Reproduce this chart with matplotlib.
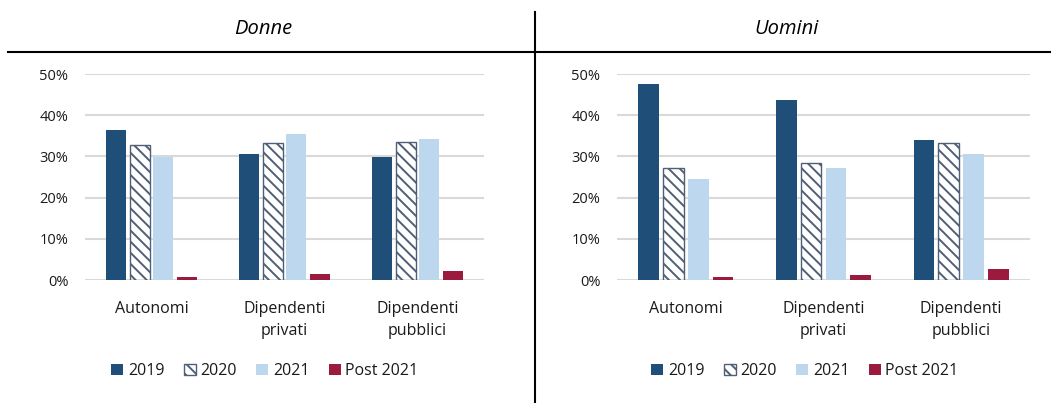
import numpy as np
import matplotlib
matplotlib.use('Agg')
import matplotlib.pyplot as plt
from matplotlib.lines import Line2D
from matplotlib.patches import Patch

plt.rcParams['font.family'] = ['Open Sans', 'DejaVu Sans']
plt.rcParams['hatch.linewidth'] = 1.4

# Dati
categorie = ['Autonomi', 'Dipendenti\nprivati', 'Dipendenti\npubblici']
serie = ['2019', '2020', '2021', 'Post 2021']

donne_2019 = [0.364, 0.307, 0.299]
donne_2020 = [0.328, 0.332, 0.336]
donne_2021 = [0.299, 0.354, 0.343]
donne_post = [0.008, 0.015, 0.023]

uomini_2019 = [0.476, 0.436, 0.339]
uomini_2020 = [0.273, 0.285, 0.332]
uomini_2021 = [0.246, 0.271, 0.306]
uomini_post = [0.008, 0.012, 0.026]

colori = ['#1F4E79', 'white', '#BDD7EE', '#9B1B3E']
col_hatch = '#4F5F75'

fig = plt.figure(figsize=(10.51, 4.03), dpi=100)


def disegna(ax, valori):
    x = np.arange(len(categorie))
    step = 0.18
    for i, v in enumerate(valori):
        pos = x + (i - 1.5) * step
        if serie[i] == '2020':
            ax.bar(pos, v, width=0.15, color='white', edgecolor=col_hatch,
                   hatch='\\\\\\', linewidth=1.0, zorder=3)
        else:
            ax.bar(pos, v, width=0.15, color=colori[i], zorder=3)
    ax.set_xlim(-0.5, len(categorie) - 0.5)
    ax.set_ylim(0, 0.5)
    ax.set_yticks(np.arange(0, 0.51, 0.1))
    ax.set_yticklabels([f'{int(round(t * 100))}%' for t in np.arange(0, 0.51, 0.1)])
    ax.yaxis.grid(True, color='#D9D9D9', linewidth=1.5, zorder=0)
    ax.set_axisbelow(True)
    ax.set_xticks(x)
    ax.set_xticklabels(categorie, linespacing=1.55)
    ax.tick_params(axis='x', length=0, pad=15, labelsize=11.5, labelcolor='#1a1a1a')
    ax.tick_params(axis='y', length=0, pad=12, labelsize=10.5, labelcolor='#1a1a1a')
    for s in ax.spines.values():
        s.set_visible(False)


ax1 = fig.add_axes([85 / 1051, 1 - 280 / 403, 399 / 1051, 206 / 403])
disegna(ax1, [donne_2019, donne_2020, donne_2021, donne_post])

ax2 = fig.add_axes([617 / 1051, 1 - 280 / 403, 413 / 1051, 206 / 403])
disegna(ax2, [uomini_2019, uomini_2020, uomini_2021, uomini_post])

# Legende
handles = [Patch(facecolor=colori[0]),
           Patch(facecolor='white', edgecolor=col_hatch, hatch='\\\\\\', linewidth=1.0),
           Patch(facecolor=colori[2]),
           Patch(facecolor=colori[3])]
for cx in [265 / 1051, 805 / 1051]:
    fig.legend(handles, serie, loc='center', bbox_to_anchor=(cx, 1 - 371 / 403),
               ncol=4, frameon=False, fontsize=11.5, handlelength=0.75,
               handleheight=0.75, handletextpad=0.3, columnspacing=1.2,
               labelcolor='#1a1a1a')

# Titoli
fig.text(263 / 1051, 1 - 29 / 403, 'Donne', ha='center', va='center',
         fontsize=14.5, style='italic')
fig.text(787 / 1051, 1 - 29 / 403, 'Uomini', ha='center', va='center',
         fontsize=14.5, style='italic')

# Linee della tabella
fig.add_artist(Line2D([8 / 1051, 1], [1 - 52 / 403, 1 - 52 / 403],
                      color='black', linewidth=1.5, transform=fig.transFigure))
fig.add_artist(Line2D([535 / 1051, 535 / 1051], [0, 1 - 12 / 403],
                      color='black', linewidth=1.5, transform=fig.transFigure))

fig.savefig('out.png', dpi=100)
